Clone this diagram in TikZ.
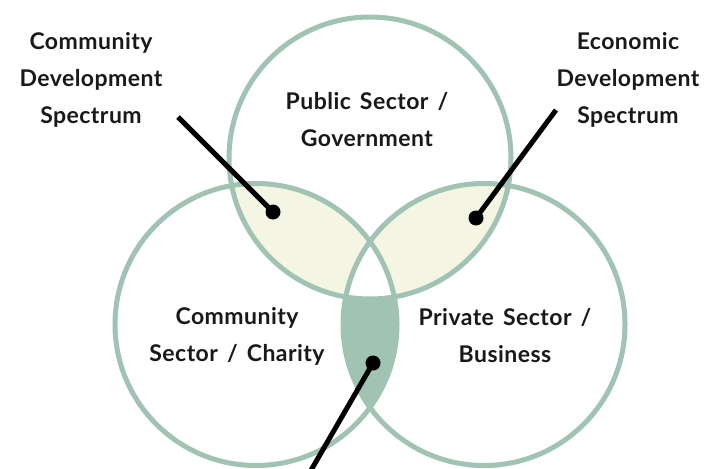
\documentclass[tikz,border=0pt]{standalone}
\usepackage{fontspec}
\setmainfont{Lato}[WordSpace=1.5,LetterSpace=2]
\begin{document}
\begin{tikzpicture}[x=1pt,y=-1pt,
  ring/.style={draw=ringgreen,line width=5pt},
  label/.style={align=center,font=\bfseries\fontsize{23}{37}\selectfont,text=black!90,inner sep=0pt},
  pointer/.style={line width=5pt,black},
  dot/.style={circle,fill=black,inner sep=0pt,minimum size=15pt}]
\definecolor{ringgreen}{HTML}{A0C3B4}
\definecolor{lensyellow}{HTML}{F5F5E3}
\useasboundingbox (0,0) rectangle (711,468);
\clip (0,0) rectangle (711,468);
\fill[white] (0,0) rectangle (711,468);

% circle centres and radius
\def\R{141}
\coordinate (ct) at (370,158);
\coordinate (cl) at (256,324.5);
\coordinate (cr) at (484,324.5);

% overlap shading
\begin{scope}
  \clip (cl) circle (\R);
  \clip (cr) circle (\R);
  \fill[ringgreen] (0,0) rectangle (711,468);
\end{scope}
\begin{scope}
  \clip (ct) circle (\R);
  \clip (cl) circle (\R);
  \fill[lensyellow] (0,0) rectangle (711,468);
\end{scope}
\begin{scope}
  \clip (ct) circle (\R);
  \clip (cr) circle (\R);
  \fill[lensyellow] (0,0) rectangle (711,468);
\end{scope}
\begin{scope}
  \clip (ct) circle (\R);
  \clip (cl) circle (\R);
  \clip (cr) circle (\R);
  \fill[white] (0,0) rectangle (711,468);
\end{scope}

% circle outlines
\draw[ring] (ct) circle (\R);
\draw[ring] (cl) circle (\R);
\draw[ring] (cr) circle (\R);

% sector labels
\node[label] (pub) at (367,120) {Public Sector /\\Government};
\node[label] (com) at (237,336) {Community\\Sector / Charity};
\node[label] (pri) at (505,336) {Private Sector /\\Business};

% spectrum labels
\node[label] (cds) at (91,80) {Community\\Development\\Spectrum};
\node[label] (eds) at (628,80) {Economic\\Development\\Spectrum};

% pointers
\node[dot] (d1) at (273,212) {};
\node[dot] (d2) at (476,218) {};
\node[dot] (d3) at (373,363) {};
\coordinate (p1) at (178,117);
\coordinate (p2) at (556,110);
\coordinate (p3) at (310,472);
\draw[pointer] (p1) -- (d1.center);
\draw[pointer] (p2) -- (d2.center);
\draw[pointer] (p3) -- (d3.center);
\end{tikzpicture}
\end{document}
